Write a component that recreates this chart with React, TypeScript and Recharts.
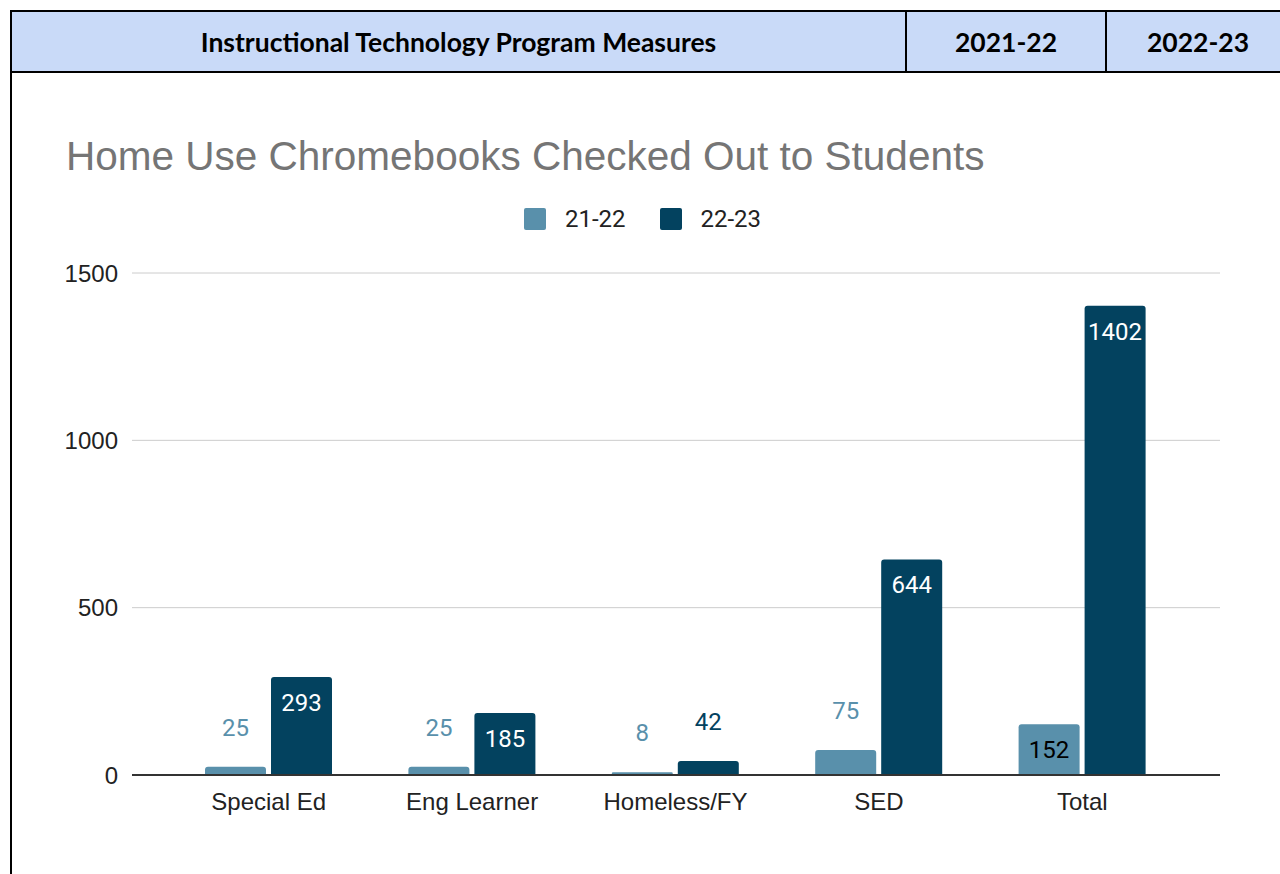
import { Bar, BarChart, CartesianGrid, Legend, XAxis, YAxis } from "recharts";

const categories = ["Special Ed", "Eng Learner", "Homeless/FY", "SED", "Total"];
const values2122 = [25, 25, 8, 75, 152];
const values2223 = [293, 185, 42, 644, 1402];
const yTicks = [0, 500, 1000, 1500];
const seriesNames = ["21-22", "22-23"];
const headerCells = ["Instructional Technology Program Measures", "2021-22", "2022-23"];
const chartTitle = "Home Use Chromebooks Checked Out to Students";

const LIGHT = "#5990ab";
const DARK = "#03425f";

const data = categories.map((name, i) => ({
  name,
  y2122: values2122[i],
  y2223: values2223[i],
}));

// google charts style: value inside the bar top if it fits, else floated above
const makeLabel = (color: string, insideColor: string) => (props: any) => {
  const { x, y, width, height, value } = props;
  const inside = height >= 40;
  return (
    <text
      x={x + width / 2}
      y={inside ? y + 26 : y - 39}
      textAnchor="middle"
      dominantBaseline="central"
      fill={inside ? insideColor : color}
      fontSize={24}
      fontFamily="Roboto"
    >
      {value}
    </text>
  );
};

const renderLegend = (props: any) => {
  const { payload } = props;
  return (
    <div style={{ display: "flex", justifyContent: "center", fontFamily: "Roboto", fontSize: 24, color: "#222", paddingLeft: 5 }}>
      {payload.map((p: any, i: number) => (
        <div key={p.value} style={{ display: "flex", alignItems: "center", marginLeft: i ? 34 : 0 }}>
          <span style={{ width: 22, height: 22, background: p.color, borderRadius: 2, marginRight: 19 }} />
          <span>{p.value}</span>
        </div>
      ))}
    </div>
  );
};

const cellWidths = [893, 198, 182];

export default function App() {
  return (
    <div style={{ position: "absolute", left: 0, top: 0, width: 1280, height: 874, overflow: "hidden", background: "#fff" }}>
      <div
        style={{
          position: "absolute",
          left: 10,
          top: 10,
          width: 1300,
          height: 63,
          boxSizing: "border-box",
          border: "2px solid #000",
          background: "#c9daf8",
          display: "flex",
          fontFamily: "Lato",
          fontWeight: 700,
          fontSize: 26.5,
        }}
      >
        {headerCells.map((c, i) => (
          <div
            key={c}
            style={{
              width: cellWidths[i],
              borderLeft: i ? "2px solid #000" : "none",
              display: "flex",
              alignItems: "center",
              justifyContent: "center",
            }}
          >
            {c}
          </div>
        ))}
      </div>
      <div style={{ position: "absolute", left: 10, top: 73, width: 2, height: 801, background: "#000" }} />
      <div
        style={{
          position: "absolute",
          left: 66,
          top: 136,
          fontFamily: "Liberation Sans, Arial",
          fontSize: 40.5,
          lineHeight: "40px",
          color: "#757575",
          whiteSpace: "nowrap",
        }}
      >
        {chartTitle}
      </div>
      <div style={{ position: "absolute", left: 0, top: 0 }}>
        <BarChart
          width={1280}
          height={874}
          data={data}
          margin={{ top: 273, right: 60, bottom: 39, left: 52 }}
          barGap={5}
          barSize={61}
        >
          <CartesianGrid vertical={false} stroke="#ccc" />
          <XAxis
            dataKey="name"
            height={60}
            padding={{ left: 35, right: 36 }}
            axisLine={{ stroke: "#333", strokeWidth: 2 }}
            tickLine={false}
            tickMargin={12}
            tick={{ fill: "#222", fontSize: 24, fontFamily: "Liberation Sans, Arial" }}
          />
          <YAxis
            width={80}
            domain={[0, 1500]}
            ticks={yTicks}
            axisLine={false}
            tickLine={false}
            tickMargin={8}
            tick={{ fill: "#222", fontSize: 24, fontFamily: "Liberation Sans, Arial" }}
          />
          <Legend
            layout="horizontal"
            verticalAlign="middle"
            content={renderLegend}
            wrapperStyle={{ left: 0, top: 205, width: 1280 }}
          />
          <Bar
            dataKey="y2122"
            name={seriesNames[0]}
            fill={LIGHT}
            radius={[3, 3, 0, 0]}
            isAnimationActive={false}
            label={makeLabel(LIGHT, "#000")}
          />
          <Bar
            dataKey="y2223"
            name={seriesNames[1]}
            fill={DARK}
            radius={[3, 3, 0, 0]}
            isAnimationActive={false}
            label={makeLabel(DARK, "#fff")}
          />
        </BarChart>
      </div>
    </div>
  );
}
